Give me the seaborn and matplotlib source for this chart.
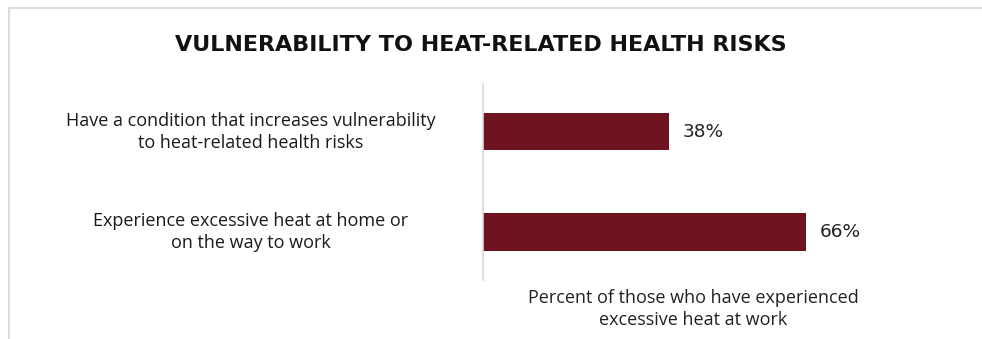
import matplotlib
matplotlib.use("Agg")
import matplotlib.pyplot as plt
from matplotlib.lines import Line2D
import seaborn as sns
import pandas as pd

categories = [
    "Have a condition that increases vulnerability\nto heat-related health risks",
    "Experience excessive heat at home or\non the way to work",
]
values = [38, 66]
value_labels = ["38%", "66%"]
title = "VULNERABILITY TO HEAT-RELATED HEALTH RISKS"
xlabel = "Percent of those who have experienced\nexcessive heat at work"

df = pd.DataFrame({"category": categories, "value": values})

sns.set_theme(style="white")
plt.rcParams["font.family"] = ["Open Sans", "DejaVu Sans"]

W, H = 982, 339
fig = plt.figure(figsize=(W / 100, H / 100), dpi=100)
ax = fig.add_axes([483 / W, 1 - 280 / H, 489 / W, 196 / H])

bar_color = "#6e1420"
sns.barplot(data=df, x="value", y="category", orient="h", color=bar_color,
            width=0.37, saturation=1, linewidth=0, ax=ax)

ax.set_xlim(0, 100)
ax.set_ylim(1.48, -0.48)
ax.set_xticks([])
ax.set_xlabel("")
ax.set_ylabel("")
for side in ["top", "right", "bottom"]:
    ax.spines[side].set_visible(False)
ax.spines["left"].set_color("#d9d9d9")
ax.spines["left"].set_linewidth(1.2)

# category labels centred to the left of the axis
ax.tick_params(axis="y", length=0, pad=167)
for lbl in ax.get_yticklabels():
    lbl.set_horizontalalignment("center")
    lbl.set_verticalalignment("center")
    lbl.set_multialignment("center")
    lbl.set_fontsize(13)
    lbl.set_color("#1a1a1a")
    lbl.set_linespacing(1.3)

# value labels at the end of each bar
for i, (v, t) in enumerate(zip(values, value_labels)):
    ax.annotate(t, xy=(v, i), xytext=(10, 0), textcoords="offset points",
                ha="left", va="center", fontsize=13.3, family=["DejaVu Sans"],
                color="#222222")

fig.text(693 / W, 1 - 309 / H, xlabel, ha="center", va="center",
         fontsize=13, color="#222222", linespacing=1.3)

fig.text(481 / W, 1 - 45 / H, title, ha="center", va="center",
         fontsize=16, fontweight="bold", family=["DejaVu Sans"],
         color="#111111")

# thin frame along the top and left edges
fig.add_artist(Line2D([9 / W, 1], [1 - 7.5 / H] * 2, color="#dcdcdc", lw=1.5,
                      transform=fig.transFigure))
fig.add_artist(Line2D([8.5 / W] * 2, [0, 1 - 7.5 / H], color="#dcdcdc", lw=1.5,
                      transform=fig.transFigure))

fig.savefig("out.png", dpi=100, facecolor="white")
